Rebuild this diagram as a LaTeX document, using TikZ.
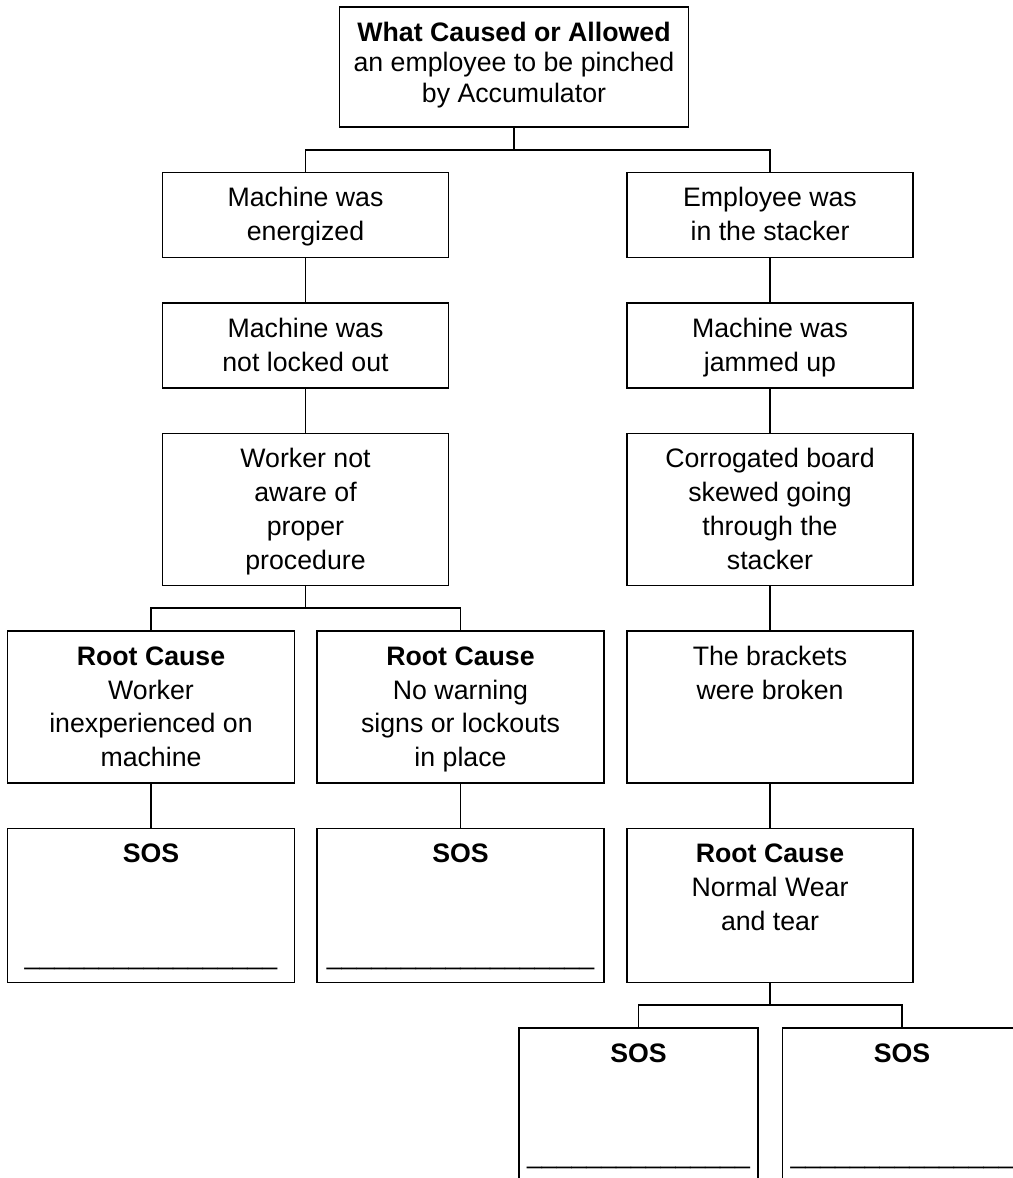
\documentclass[tikz,border=0pt]{standalone}
\usepackage{fontspec}
\setmainfont{Liberation Sans}
\usetikzlibrary{positioning}

% Box whose text starts at the top, not in the middle
\newcommand{\cellbox}[3]{\parbox[c][#2][t]{#1}{\centering\rule{0pt}{24.5pt}#3}}

\begin{document}
\begin{tikzpicture}[node distance=1.1375cm, font=\fontsize{19}{24}\selectfont] % Large text like the original chart
\tikzstyle{cell} = [draw=black, line width=1.3pt, inner sep=0pt, outer sep=0pt]
\tikzstyle{link} = [draw=black, line width=1.3pt]

\path[use as bounding box, clip] (0,0) rectangle (25.325,-29.45);

% Define the top question box
\node[cell, anchor=north] (Question) at (12.85,-0.175) {\parbox[c][3cm][t]{8.725cm}{\centering\fontsize{19}{21.7}\selectfont\rule{0pt}{24.2pt}\textbf{What Caused or Allowed}\\an employee to be pinched\\by Accumulator}};

% Left branch, machine side
\node[cell, below=of Question, xshift=-5.2125cm] (Energized) {\cellbox{7.15cm}{2.125cm}{Machine was\\energized}};
\node[cell, below=of Energized] (NotLocked) {\cellbox{7.15cm}{2.125cm}{Machine was\\not locked out}};
\node[cell, below=of NotLocked] (NotAware) {\cellbox{7.15cm}{3.8cm}{Worker not\\aware of\\proper\\procedure}};
\node[cell, below=of NotAware, xshift=-3.8625cm] (Inexperienced) {\cellbox{7.175cm}{3.8cm}{\textbf{Root Cause}\\Worker\\inexperienced on\\machine}};
\node[cell, below=of NotAware, xshift=3.875cm] (NoWarning) {\cellbox{7.175cm}{3.8cm}{\textbf{Root Cause}\\No warning\\signs or lockouts\\in place}};
\node[cell, below=of Inexperienced] (SosWorker) {\cellbox{7.175cm}{3.85cm}{\textbf{SOS}\\[48pt]\_\_\_\_\_\_\_\_\_\_\_\_\_\_\_\_\_}};
\node[cell, below=of NoWarning] (SosWarning) {\cellbox{7.175cm}{3.85cm}{\textbf{SOS}\\[48pt]\_\_\_\_\_\_\_\_\_\_\_\_\_\_\_\_\_\_}};

% Right branch, employee side
\node[cell, below=of Question, xshift=6.4cm] (InStacker) {\cellbox{7.15cm}{2.125cm}{Employee was\\in the stacker}};
\node[cell, below=of InStacker] (Jammed) {\cellbox{7.15cm}{2.125cm}{Machine was\\jammed up}};
\node[cell, below=of Jammed] (Skewed) {\cellbox{7.15cm}{3.8cm}{Corrogated board\\skewed going\\through the\\stacker}};
\node[cell, below=of Skewed] (Brackets) {\cellbox{7.15cm}{3.8cm}{The brackets\\were broken}};
\node[cell, below=of Brackets] (Wear) {\cellbox{7.15cm}{3.85cm}{\textbf{Root Cause}\\Normal Wear\\and tear}};
\node[cell, below=of Wear, xshift=-3.2875cm] (SosWearA) {\cellbox{5.975cm}{5cm}{\textbf{SOS}\\[48pt]\_\_\_\_\_\_\_\_\_\_\_\_\_\_\_}};
\node[cell, below=of Wear, xshift=3.3cm] (SosWearB) {\cellbox{5.975cm}{5cm}{\textbf{SOS}\\[48pt]\_\_\_\_\_\_\_\_\_\_\_\_\_\_\_}};

% Draw the connectors
\draw[link] (Question.south) -- ++(0,-0.57) -| (Energized.north);
\draw[link] (Question.south) -- ++(0,-0.57) -| (InStacker.north);

\draw[link] (Energized) -- (NotLocked);
\draw[link] (NotLocked) -- (NotAware);
\draw[link] (NotAware.south) -- ++(0,-0.57) -| (Inexperienced.north);
\draw[link] (NotAware.south) -- ++(0,-0.57) -| (NoWarning.north);
\draw[link] (Inexperienced) -- (SosWorker);
\draw[link] (NoWarning) -- (SosWarning);

\draw[link] (InStacker) -- (Jammed);
\draw[link] (Jammed) -- (Skewed);
\draw[link] (Skewed) -- (Brackets);
\draw[link] (Brackets) -- (Wear);
\draw[link] (Wear.south) -- ++(0,-0.57) -| (SosWearA.north);
\draw[link] (Wear.south) -- ++(0,-0.57) -| (SosWearB.north);

\end{tikzpicture}
\end{document}
